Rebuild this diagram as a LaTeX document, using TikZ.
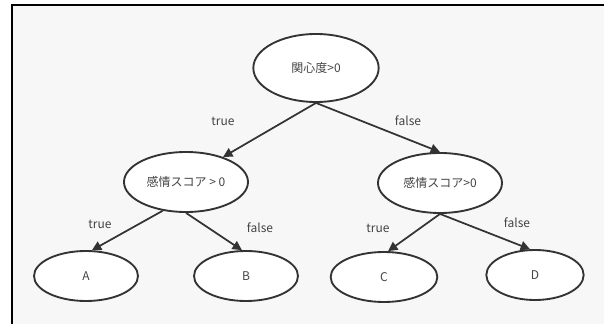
\documentclass[tikz,border=0pt]{standalone}
\usepackage{fontspec}
\setmainfont{Noto Sans CJK JP}
\usetikzlibrary{shapes.geometric, arrows.meta}
\definecolor{linegray}{HTML}{333333}
\definecolor{textgray}{HTML}{444444}
\definecolor{bggray}{HTML}{F7F7F7}

\begin{document}
\begin{tikzpicture}[x=0.75pt, y=-0.75pt,
        cond/.style={ellipse, draw=linegray, line width=1.4pt, fill=white, inner sep=0pt,
            minimum width=93pt, minimum height=45pt, text=textgray, font=\fontsize{9}{11}\selectfont},
        leaf/.style={cond, minimum width=78pt, minimum height=37.5pt},
        branch/.style={draw=linegray, line width=1.3pt, -{Triangle[length=7pt,width=7pt]}},
        lbl/.style={text=textgray, font=\fontsize{9}{11}\selectfont}]
        \useasboundingbox (0,0) rectangle (604,324);

                % Draw the frame
                \fill[bggray] (11.5,5.5) rectangle (604,324);
                \draw[line width=1.5pt, black] (11.5,324) -- (11.5,5.5) -- (604,5.5);

                % Draw the root
                \node[cond, minimum width=94pt, minimum height=51pt] (root) at (316,68) {関心度>0};

                % Draw the second level
                \node[cond] (lmid) at (186,182) {感情スコア > 0};
                \node[cond] (rmid) at (440,183) {感情スコア>0};

                % Draw the leaves
                \node[leaf] (a) at (86,276) {A};
                \node[leaf] (b) at (246,276) {B};
                \node[leaf, minimum width=80pt] (c) at (384,277) {C};
                \node[leaf, minimum width=73pt] (d) at (535,275) {D};

                % Draw edges from the root
                \draw[branch] (root.south) -- (lmid.34);
                \draw[branch] (root.south) -- (rmid.north);

                % Draw edges to the leaves
                \draw[branch] (lmid.231) -- (a.77);
                \draw[branch] (lmid.south) -- (b.99);
                \draw[branch] (rmid.south) -- (c.81);
                \draw[branch] (rmid.south) -- (d.101);

                % Draw the edge labels
                \node[lbl] (t1) at (223,121) {true};
                \node[lbl] (f1) at (408,121) {false};
                \node[lbl] (t2) at (100,224) {true};
                \node[lbl] (f2) at (260,228) {false};
                \node[lbl] (t3) at (378,228) {true};
                \node[lbl] (f3) at (517,223) {false};

\end{tikzpicture}
\end{document}
